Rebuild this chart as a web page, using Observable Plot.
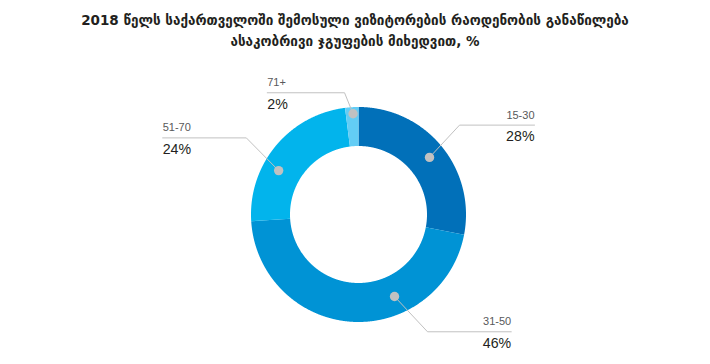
<!DOCTYPE html>
<html><head><meta charset="utf-8">
<script src="https://cdn.jsdelivr.net/npm/d3@7"></script>
<script src="https://cdn.jsdelivr.net/npm/@observablehq/plot@0.6"></script>
<style>
body{margin:0;background:#fff;width:710px;height:364px;overflow:hidden}
#title{height:56px;box-sizing:border-box;padding-top:10px;text-align:center;font:bold 13.5px/21px "DejaVu Sans",sans-serif;color:#231f20}
</style></head><body>
<div id="title">2018 წელს საქართველოში შემოსული ვიზიტორების რაოდენობის განაწილება<br>ასაკობრივი ჯგუფების მიხედვით, %</div>
<div id="chart"></div>
<script>
// ---- data ----
const groups = ["15-30", "31-50", "51-70", "71+"];
const shares = [28, 46, 24, 2];
const shareLabels = ["28%", "46%", "24%", "2%"];

// ---- styling / layout ----
const colors = ["#0170b9", "#0093d5", "#02b4ec", "#63cdf5"];
const W = 710, H = 308;
const cx = 358, cy = 158;          // centre of donut inside svg (px)
const outerR = 107.5, innerR = 68.5;
// leader-line layout: position of dot inside slice (angle fraction, ring fraction), elbow offset, horizontal run
const leader = [
  {t: 0.508, k: 0.58, ex: 30, ey: -32.3, run: 75, side: "right"},
  {t: 0.335, k: 0.54, ex: 33, ey: 35.3, run: 83.7, side: "right"},
  {t: 0.375, k: 0.58, ex: -32.3, ey: -32.7, run: 83.7, side: "left"},
  {t: 0.57, k: 0.83, ex: -8.5, ey: -21, run: 77.3, side: "left"}
];

const arcs = d3.pie().sort(null).value(d => d)(shares);
const pol = (r, a) => [r * Math.sin(a), -r * Math.cos(a)];

// slice polygons
const slicePts = [];
arcs.forEach((a, i) => {
  const n = Math.max(4, Math.ceil((a.endAngle - a.startAngle) / (Math.PI / 720)));
  const outer = d3.range(n + 1).map(j => a.startAngle + (a.endAngle - a.startAngle) * j / n);
  outer.forEach(ang => { const [x, y] = pol(outerR, ang); slicePts.push({group: groups[i], x, y}); });
  outer.slice().reverse().forEach(ang => { const [x, y] = pol(innerR, ang); slicePts.push({group: groups[i], x, y}); });
});

// leaders, dots, labels
const dots = [], lines = [], labels = [], pcts = [];
arcs.forEach((a, i) => {
  const L = leader[i];
  const ang = a.startAngle + (a.endAngle - a.startAngle) * L.t;
  const r = innerR + (outerR - innerR) * L.k;
  const [dx, dy] = pol(r, ang);
  const ex = dx + L.ex, ey = dy + L.ey;
  const endX = ex + (L.side === "right" ? L.run : -L.run);
  dots.push({x: dx, y: dy});
  lines.push({g: i, x: dx, y: dy}, {g: i, x: ex, y: ey}, {g: i, x: endX, y: ey});
  const anchor = L.side === "right" ? "end" : "start";
  labels.push({x: endX, y: ey - 6.6, text: groups[i], anchor});
  pcts.push({x: endX, y: ey + 15.8, text: shareLabels[i], anchor});
});

const font = "Liberation Sans, Arial, sans-serif";
const chart = Plot.plot({
  width: W, height: H,
  margin: 0,
  style: {background: "#fff", overflow: "visible"},
  x: {domain: [-cx, W - cx], axis: null},
  y: {domain: [-cy, H - cy], reverse: true, axis: null},
  color: {domain: groups, range: colors},
  marks: [
    Plot.line(slicePts, {x: "x", y: "y", z: "group", fill: "group", stroke: "none", curve: "linear-closed"}),
    Plot.line(lines, {x: "x", y: "y", z: "g", stroke: "#c1c1c1", strokeWidth: 1}),
    Plot.dot(dots, {x: "x", y: "y", r: 4.7, fill: "#c1c1c1", stroke: "none"}),
    Plot.text(labels.filter(d => d.anchor === "end"), {x: "x", y: "y", text: "text", textAnchor: "end", lineAnchor: "bottom", fontSize: 11, fill: "#58595b", fontFamily: font}),
    Plot.text(labels.filter(d => d.anchor === "start"), {x: "x", y: "y", text: "text", textAnchor: "start", lineAnchor: "bottom", fontSize: 11, fill: "#58595b", fontFamily: font}),
    Plot.text(pcts.filter(d => d.anchor === "end"), {x: "x", y: "y", text: "text", textAnchor: "end", lineAnchor: "bottom", fontSize: 14.2, fill: "#231f20", fontFamily: font}),
    Plot.text(pcts.filter(d => d.anchor === "start"), {x: "x", y: "y", text: "text", textAnchor: "start", lineAnchor: "bottom", fontSize: 14.2, fill: "#231f20", fontFamily: font})
  ]
});
document.getElementById("chart").appendChild(chart);
</script>
</body></html>
